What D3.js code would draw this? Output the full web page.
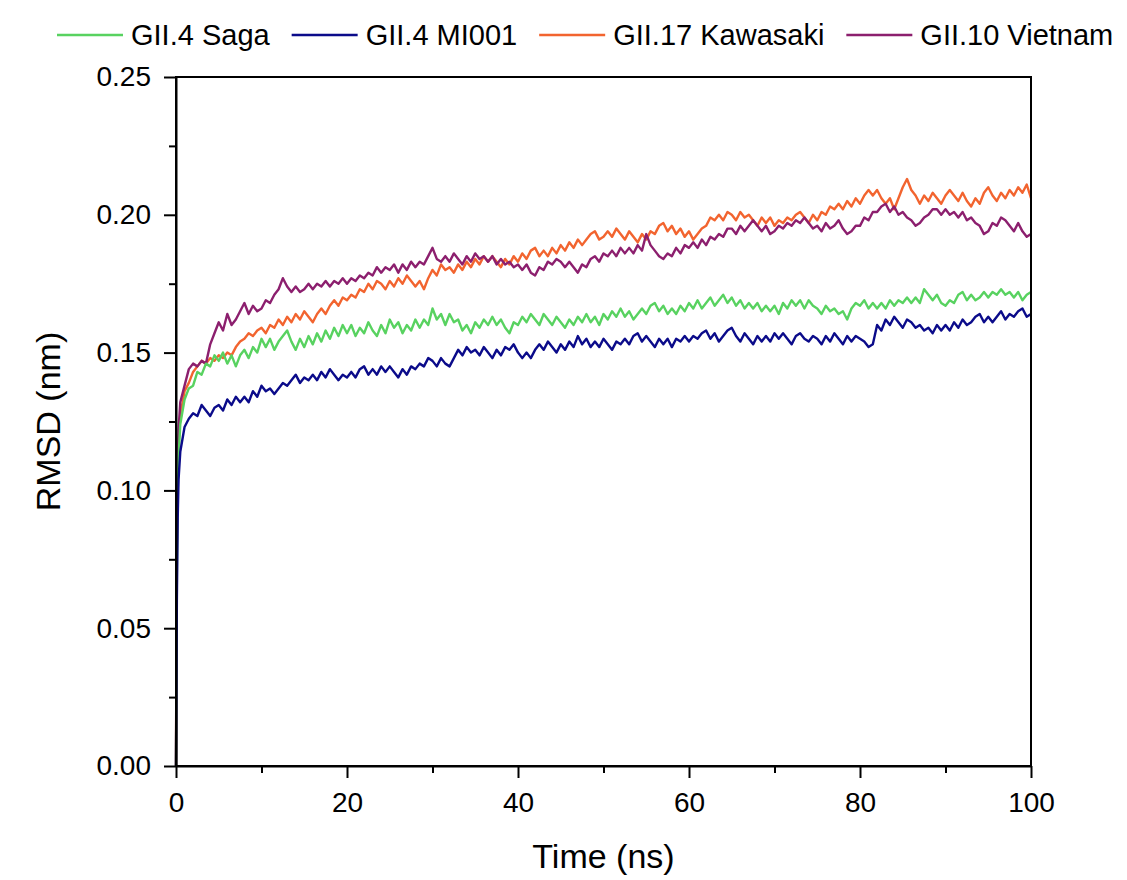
<!DOCTYPE html>
<html>
<head>
<meta charset="utf-8">
<script src="https://cdn.jsdelivr.net/npm/d3@7"></script>
<style>
body { margin: 0; background: #fff; }
svg { display: block; font-family: "Liberation Sans", Arial, sans-serif; }
</style>
</head>
<body>
<div id="chart"></div>
<script>
// simulation time (ns)
const times = [0, 0.1, 0.2, 0.3, 0.5,
  1, 1.5, 2, 2.5, 3, 3.5, 4, 4.5, 5, 5.5,
  6, 6.5, 7, 7.5, 8, 8.5, 9, 9.5, 10, 10.5,
  11, 11.5, 12, 12.5, 13, 13.5, 14, 14.5, 15, 15.5,
  16, 16.5, 17, 17.5, 18, 18.5, 19, 19.5, 20, 20.5,
  21, 21.5, 22, 22.5, 23, 23.5, 24, 24.5, 25, 25.5,
  26, 26.5, 27, 27.5, 28, 28.5, 29, 29.5, 30, 30.5,
  31, 31.5, 32, 32.5, 33, 33.5, 34, 34.5, 35, 35.5,
  36, 36.5, 37, 37.5, 38, 38.5, 39, 39.5, 40, 40.5,
  41, 41.5, 42, 42.5, 43, 43.5, 44, 44.5, 45, 45.5,
  46, 46.5, 47, 47.5, 48, 48.5, 49, 49.5, 50, 50.5,
  51, 51.5, 52, 52.5, 53, 53.5, 54, 54.5, 55, 55.5,
  56, 56.5, 57, 57.5, 58, 58.5, 59, 59.5, 60, 60.5,
  61, 61.5, 62, 62.5, 63, 63.5, 64, 64.5, 65, 65.5,
  66, 66.5, 67, 67.5, 68, 68.5, 69, 69.5, 70, 70.5,
  71, 71.5, 72, 72.5, 73, 73.5, 74, 74.5, 75, 75.5,
  76, 76.5, 77, 77.5, 78, 78.5, 79, 79.5, 80, 80.5,
  81, 81.5, 82, 82.5, 83, 83.5, 84, 84.5, 85, 85.5,
  86, 86.5, 87, 87.5, 88, 88.5, 89, 89.5, 90, 90.5,
  91, 91.5, 92, 92.5, 93, 93.5, 94, 94.5, 95, 95.5,
  96, 96.5, 97, 97.5, 98, 98.5, 99, 99.5, 100];

// RMSD (nm) per strain
const saga = [0, 0.07, 0.10, 0.112, 0.124,
  .133, .137, .138, .143, .142, .146, .145, .149, .147, .150,
  .146, .149, .145, .149, .151, .148, .152, .150, .155, .152,
  .155, .151, .154, .156, .158, .154, .151, .155, .152, .156,
  .153, .157, .154, .158, .155, .159, .156, .160, .157, .160,
  .156, .159, .157, .161, .158, .156, .160, .157, .162, .159,
  .161, .157, .160, .158, .162, .159, .162, .160, .166, .162,
  .164, .160, .164, .161, .162, .158, .160, .157, .161, .159,
  .162, .160, .163, .160, .162, .159, .157, .161, .160, .163,
  .161, .164, .162, .160, .164, .162, .160, .163, .161, .159,
  .162, .160, .163, .161, .164, .161, .163, .160, .164, .162,
  .165, .163, .166, .163, .165, .162, .164, .166, .164, .167,
  .168, .165, .167, .164, .166, .164, .167, .165, .168, .166,
  .169, .166, .168, .170, .167, .169, .171, .168, .170, .167,
  .169, .166, .168, .166, .168, .165, .167, .165, .167, .164,
  .168, .166, .169, .167, .169, .166, .169, .167, .166, .164,
  .167, .165, .166, .164, .165, .162, .166, .168, .167, .169,
  .166, .168, .166, .168, .166, .169, .167, .169, .168, .170,
  .168, .170, .168, .173, .171, .169, .171, .168, .167, .169,
  .168, .171, .172, .169, .171, .169, .170, .172, .170, .172,
  .171, .173, .171, .172, .170, .172, .169, .171, .172];

const mi001 = [0, 0.06, 0.09, 0.104, 0.114,
  .123, .126, .128, .127, .131, .129, .127, .130, .131, .129,
  .133, .131, .134, .132, .134, .132, .136, .134, .138, .136,
  .137, .135, .137, .139, .138, .140, .142, .139, .141, .140,
  .142, .140, .143, .141, .144, .142, .140, .142, .141, .143,
  .141, .144, .145, .142, .144, .142, .145, .143, .145, .143,
  .141, .144, .142, .145, .144, .146, .145, .148, .147, .145,
  .148, .146, .145, .148, .151, .149, .152, .150, .151, .149,
  .152, .150, .148, .151, .149, .152, .151, .153, .150, .148,
  .150, .148, .151, .153, .151, .154, .152, .150, .153, .151,
  .154, .152, .156, .153, .155, .152, .154, .152, .155, .153,
  .151, .154, .153, .155, .153, .156, .157, .154, .156, .154,
  .152, .155, .153, .155, .152, .155, .154, .156, .154, .156,
  .155, .157, .158, .155, .157, .154, .156, .158, .159, .156,
  .154, .157, .155, .153, .156, .154, .156, .154, .157, .155,
  .157, .155, .153, .156, .157, .155, .154, .156, .155, .153,
  .156, .154, .157, .155, .153, .156, .154, .156, .155, .154,
  .152, .153, .160, .158, .162, .160, .163, .161, .159, .162,
  .161, .159, .160, .158, .159, .157, .160, .158, .160, .158,
  .161, .159, .162, .160, .161, .163, .164, .161, .163, .161,
  .163, .165, .162, .164, .163, .165, .166, .163, .164];

const kawasaki = [0, 0.08, 0.105, 0.117, 0.127,
  .136, .139, .143, .145, .147, .146, .148, .147, .149, .148,
  .150, .149, .152, .154, .155, .157, .156, .158, .159, .157,
  .160, .159, .162, .160, .163, .161, .164, .162, .165, .163,
  .161, .164, .166, .164, .167, .169, .167, .170, .169, .171,
  .170, .173, .172, .175, .173, .176, .175, .173, .176, .174,
  .177, .175, .178, .176, .174, .176, .173, .177, .180, .178,
  .182, .180, .181, .179, .182, .180, .183, .181, .184, .182,
  .185, .183, .185, .183, .181, .184, .182, .185, .183, .186,
  .184, .187, .188, .185, .187, .185, .188, .186, .189, .187,
  .190, .188, .191, .189, .191, .193, .194, .191, .192, .194,
  .192, .195, .193, .191, .194, .192, .190, .193, .191, .194,
  .193, .196, .197, .194, .196, .193, .195, .192, .194, .191,
  .193, .195, .196, .199, .198, .200, .198, .201, .200, .198,
  .201, .199, .200, .198, .196, .199, .197, .199, .196, .198,
  .197, .199, .198, .200, .201, .199, .197, .200, .198, .201,
  .200, .203, .202, .204, .202, .205, .203, .206, .204, .207,
  .209, .207, .209, .206, .204, .206, .202, .206, .210, .213,
  .209, .207, .204, .207, .205, .208, .206, .204, .207, .209,
  .207, .205, .208, .205, .203, .206, .204, .208, .210, .207,
  .205, .208, .206, .209, .207, .210, .208, .211, .206];

const vietnam = [0, 0.085, 0.11, 0.122, 0.132,
  .138, .144, .146, .145, .147, .146, .153, .157, .161, .158,
  .164, .160, .162, .165, .168, .164, .167, .165, .166, .169,
  .168, .171, .173, .177, .174, .172, .174, .172, .173, .175,
  .173, .175, .174, .176, .174, .176, .175, .177, .175, .177,
  .176, .178, .177, .179, .178, .181, .179, .181, .180, .182,
  .179, .182, .180, .183, .181, .183, .182, .185, .188, .184,
  .183, .185, .183, .186, .184, .182, .185, .183, .186, .184,
  .185, .183, .185, .182, .184, .182, .183, .181, .182, .180,
  .182, .179, .178, .181, .180, .183, .182, .184, .183, .181,
  .183, .181, .179, .182, .181, .184, .185, .183, .186, .185,
  .187, .185, .188, .186, .188, .186, .189, .187, .193, .189,
  .187, .185, .184, .186, .185, .188, .186, .189, .188, .190,
  .188, .191, .189, .192, .191, .193, .192, .195, .195, .193,
  .196, .194, .196, .198, .196, .194, .196, .193, .194, .196,
  .195, .197, .196, .198, .197, .199, .197, .195, .196, .194,
  .197, .195, .196, .198, .195, .193, .194, .196, .196, .199,
  .198, .201, .201, .203, .204, .201, .203, .200, .201, .199,
  .198, .196, .197, .199, .200, .202, .202, .200, .202, .200,
  .201, .199, .201, .198, .199, .197, .196, .193, .194, .197,
  .196, .199, .198, .196, .194, .197, .194, .192, .193];

const seriesNames = ["GII.4 Saga", "GII.4 MI001", "GII.17 Kawasaki", "GII.10 Vietnam"];
const seriesValues = [saga, mi001, kawasaki, vietnam];
const seriesColors = ["#58d260", "#0b0b8a", "#f2642f", "#8c1f6e"];
const drawOrder = [2, 3, 0, 1];

const xTicks = [0, 20, 40, 60, 80, 100];
const xMinorTicks = [10, 30, 50, 70, 90];
const yTicks = [0, 0.05, 0.10, 0.15, 0.20, 0.25];
const yMinorTicks = [0.025, 0.075, 0.125, 0.175, 0.225];

document.addEventListener("DOMContentLoaded", drawChart);

function drawChart(){
    const width = 1127;
    const height = 880;
    const plot = {left: 176, right: 1031, top: 77, bottom: 766};

    const x = d3.scaleLinear().domain([0, 100]).range([plot.left, plot.right]);
    const y = d3.scaleLinear().domain([0, 0.25]).range([plot.bottom, plot.top]);

    const svg = d3.select("#chart").append("svg")
        .attr("width", width)
        .attr("height", height);

    // data lines
    const line = d3.line()
        .x(d => x(d[0]))
        .y(d => y(d[1]));

    drawOrder.forEach(i => {
        svg.append("path")
            .datum(d3.zip(times, seriesValues[i]))
            .attr("fill", "none")
            .attr("stroke", seriesColors[i])
            .attr("stroke-width", 2.4)
            .attr("stroke-linejoin", "round")
            .attr("d", line);
    });

    // frame
    svg.append("rect")
        .attr("x", plot.left)
        .attr("y", plot.top)
        .attr("width", plot.right - plot.left)
        .attr("height", plot.bottom - plot.top)
        .attr("fill", "none")
        .attr("stroke", "#000")
        .attr("stroke-width", 2);

    // x axis
    const xAxis = svg.append("g")
        .attr("transform", "translate(0," + plot.bottom + ")")
        .call(d3.axisBottom(x).tickValues(xTicks).tickSize(12).tickSizeOuter(0).tickPadding(14));
    svg.append("g")
        .attr("transform", "translate(0," + plot.bottom + ")")
        .call(d3.axisBottom(x).tickValues(xMinorTicks).tickSize(7).tickSizeOuter(0).tickFormat(""))
        .call(g => g.select(".domain").remove());

    // y axis
    const yAxis = svg.append("g")
        .attr("transform", "translate(" + plot.left + ",0)")
        .call(d3.axisLeft(y).tickValues(yTicks).tickSize(12).tickSizeOuter(0).tickPadding(13).tickFormat(d3.format(".2f")));
    svg.append("g")
        .attr("transform", "translate(" + plot.left + ",0)")
        .call(d3.axisLeft(y).tickValues(yMinorTicks).tickSize(7).tickSizeOuter(0).tickFormat(""))
        .call(g => g.select(".domain").remove());

    svg.selectAll(".tick line").attr("stroke", "#000").attr("stroke-width", 2);
    svg.selectAll(".domain").attr("stroke", "#000").attr("stroke-width", 2);
    [xAxis, yAxis].forEach(g => {
        g.attr("font-family", null).attr("font-size", null);
        g.selectAll("text").attr("fill", "#000").style("font-size", "28px");
    });

    // axis titles
    svg.append("text")
        .attr("x", (plot.left + plot.right) / 2)
        .attr("y", 868)
        .attr("text-anchor", "middle")
        .style("font-size", "34px")
        .text("Time (ns)");
    svg.append("text")
        .attr("transform", "translate(60," + (plot.top + plot.bottom) / 2 + ") rotate(-90)")
        .attr("text-anchor", "middle")
        .style("font-size", "34px")
        .text("RMSD (nm)");

    // legend
    const legend = svg.append("g").attr("transform", "translate(0,35)");
    let lx = 57;
    seriesNames.forEach((name, i) => {
        legend.append("line")
            .attr("x1", lx).attr("x2", lx + 66)
            .attr("y1", 0).attr("y2", 0)
            .attr("stroke", seriesColors[i])
            .attr("stroke-width", 2.5);
        const t = legend.append("text")
            .attr("x", lx + 74)
            .attr("y", 10)
            .style("font-size", "29px")
            .text(name);
        lx += 74 + t.node().getComputedTextLength() + 22;
    });
}
</script>
</body>
</html>
